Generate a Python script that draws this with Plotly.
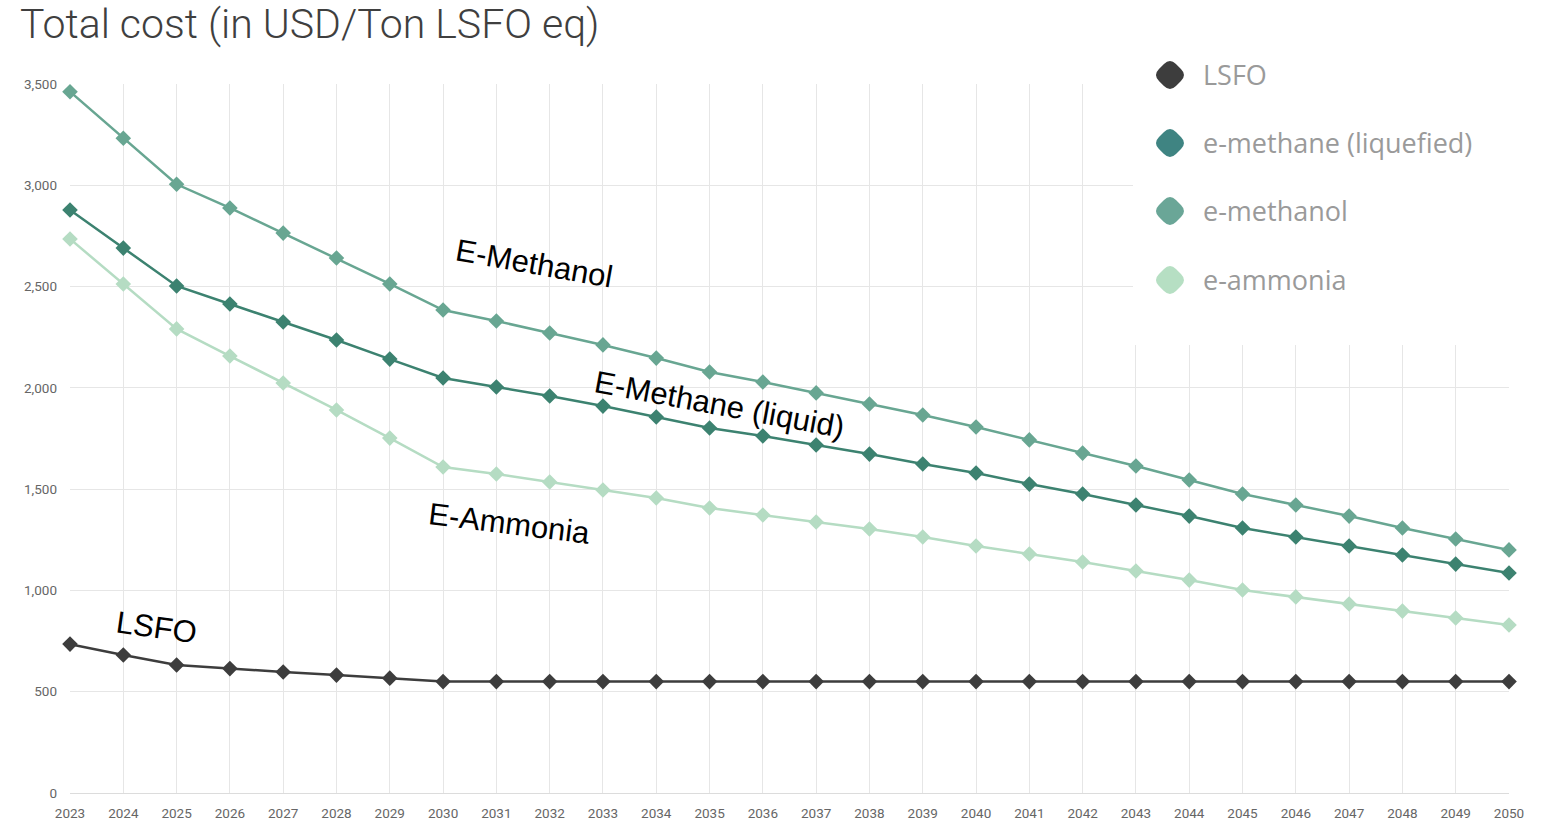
import plotly.graph_objects as go

# Years on the x axis
years = list(range(2023, 2051))

# Total cost per fuel, USD per ton LSFO equivalent
lsfo = [735, 681, 632, 614, 597, 582, 567, 550, 550, 550, 550, 550, 550, 550,
        550, 550, 550, 550, 550, 550, 550, 550, 550, 550, 550, 550, 550, 550]
e_methane = [2878, 2690, 2503, 2414, 2325, 2236, 2142, 2049, 2004, 1960, 1910,
             1856, 1802, 1762, 1718, 1673, 1624, 1580, 1525, 1476, 1422, 1367,
             1308, 1264, 1219, 1175, 1130, 1086]
e_methanol = [3462, 3232, 3005, 2888, 2764, 2641, 2513, 2384, 2330, 2271, 2212,
              2147, 2078, 2029, 1975, 1920, 1866, 1807, 1743, 1678, 1614, 1545,
              1476, 1422, 1367, 1308, 1254, 1200]
e_ammonia = [2735, 2513, 2291, 2157, 2024, 1891, 1752, 1609, 1575, 1535, 1496,
             1456, 1407, 1372, 1338, 1303, 1264, 1219, 1180, 1140, 1096, 1051,
             1002, 968, 933, 898, 864, 829]

series_names = ["LSFO", "e-methane (liquefied)", "e-methanol", "e-ammonia"]
series_values = [lsfo, e_methane, e_methanol, e_ammonia]
series_colors = ["#3d3d3d", "#3c8270", "#68a692", "#b5dcc3"]

# Hand-written labels placed next to the curves
label_texts = ["E-Methanol", "E-Methane (liquid)", "E-Ammonia", "LSFO"]
label_x = [2031.71, 2035.18, 2031.24, 2024.63]
label_y = [2616, 1920, 1328, 819]
label_angles = [10, 10.5, 7, 8]

y_ticks = [0, 500, 1000, 1500, 2000, 2500, 3000, 3500]

fig = go.Figure()

for name, vals, color in zip(series_names, series_values, series_colors):
    fig.add_trace(go.Scatter(
        x=years, y=vals, name=name, mode="lines+markers",
        line=dict(color=color, width=2.5),
        marker=dict(symbol="diamond", size=12, color=color),
        cliponaxis=False, showlegend=False,
    ))

annotations = []
for text, x, y, ang in zip(label_texts, label_x, label_y, label_angles):
    annotations.append(dict(
        text=text, x=x, y=y, xref="x", yref="y", showarrow=False,
        textangle=ang, xanchor="center", yanchor="middle",
        font=dict(family="Liberation Sans, Arial, sans-serif", size=31, color="#000000"),
    ))

# Custom legend: white panel, large rounded diamonds and grey labels
shapes = [dict(
    type="rect", xref="paper", yref="paper",
    x0=0.7387, x1=1.04, y0=0.632, y1=1.07,
    fillcolor="white", line=dict(width=0), layer="above",
)]

diamond_path = ("M 6,11 L 11,6 Q 17,0 11,-6 L 6,-11 Q 0,-17 -6,-11 "
                "L -11,-6 Q -17,0 -11,6 L -6,11 Q 0,17 6,11 Z")
legend_y = [1.0127, 0.9168, 0.8209, 0.7236]
legend_colors = ["#3d3d3d", "#3f8482", "#6aa697", "#b6dfc3"]
for name, color, ly in zip(series_names, legend_colors, legend_y):
    shapes.append(dict(
        type="path", xref="paper", yref="paper",
        xsizemode="pixel", ysizemode="pixel",
        xanchor=0.7644, yanchor=ly, path=diamond_path,
        fillcolor=color, line=dict(width=0), layer="above",
    ))
    annotations.append(dict(
        text=name, x=0.786, y=ly, xref="paper", yref="paper",
        showarrow=False, xanchor="left", yanchor="middle",
        font=dict(family="Open Sans, sans-serif", size=27, color="#9a9a9a"),
    ))

fig.update_layout(
    width=1552, height=821,
    margin=dict(l=70, r=43, t=84, b=28, autoexpand=False),
    paper_bgcolor="white", plot_bgcolor="white",
    title=dict(
        text="Total cost (in USD/Ton LSFO eq)",
        x=20 / 1552, xanchor="left", xref="container",
        y=1 - 24 / 821, yanchor="middle", yref="container",
        font=dict(family="Roboto, sans-serif", size=41, color="#3f3f3f", weight=300),
    ),
    xaxis=dict(
        range=[2023, 2050], tickmode="array", tickvals=years,
        ticktext=[str(y) for y in years],
        showgrid=True, gridcolor="#e6e6e6", gridwidth=1,
        zeroline=False, showline=False, ticks="",
        ticklabelstandoff=10, automargin=False,
        tickfont=dict(family="Roboto, sans-serif", size=13.5, color="#666666"),
    ),
    yaxis=dict(
        range=[0, 3500], tickmode="array", tickvals=y_ticks,
        ticktext=[f"{v:,}" for v in y_ticks],
        showgrid=True, gridcolor="#e6e6e6", gridwidth=1,
        zeroline=True, zerolinecolor="#dcdcdc", zerolinewidth=1,
        showline=False, ticks="",
        ticklabelstandoff=12, automargin=False,
        tickfont=dict(family="Roboto, sans-serif", size=13.5, color="#666666"),
    ),
    annotations=annotations,
    shapes=shapes,
)

fig.write_html("out.html")
